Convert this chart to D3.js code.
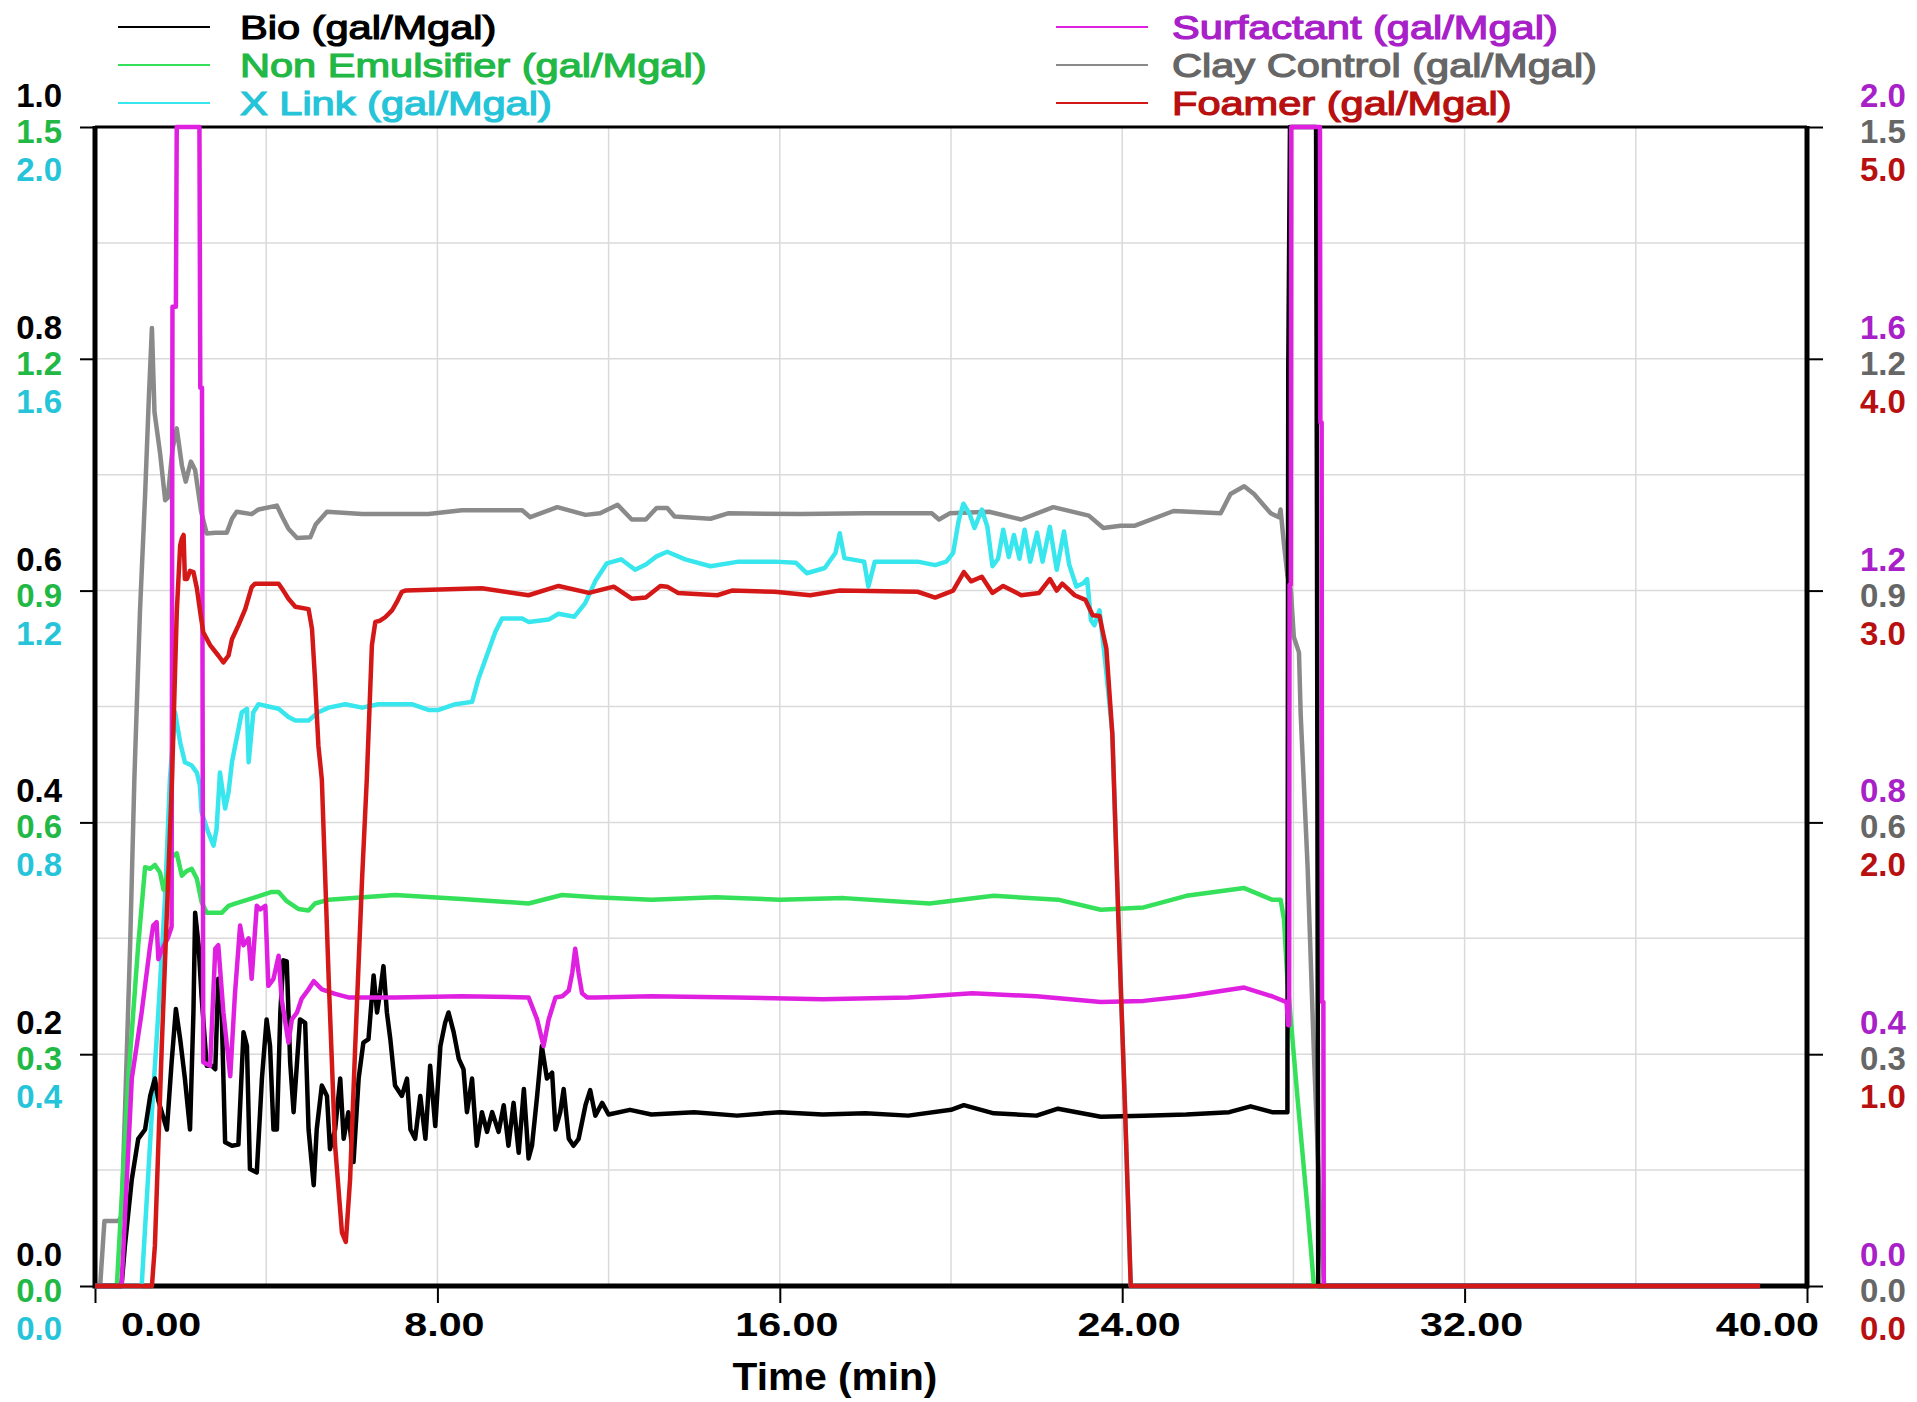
<!DOCTYPE html>
<html>
<head>
<meta charset="utf-8">
<script src="https://cdn.jsdelivr.net/npm/d3@7"></script>
<style>
  body { margin: 0; background: #fff; }
  svg { display: block; }
</style>
</head>
<body>
<svg id="chart"></svg>
<script>

// -----------------------------
// DATA  [minute, value]
// -----------------------------
const xTicks = [0, 8, 16, 24, 32, 40];

const bioData = [
  [0,0],[0.62,0],[0.70,0.035],[0.86,0.092],[1.01,0.127],[1.17,0.135],[1.29,0.164],[1.40,0.179],[1.48,0.16],[1.56,0.15],
  [1.68,0.135],[1.79,0.193],[1.89,0.239],[1.99,0.213],[2.10,0.179],[2.22,0.135],[2.30,0.236],[2.34,0.322],[2.42,0.294],[2.49,0.25],
  [2.61,0.19],[2.73,0.19],[2.81,0.187],[2.88,0.265],[2.96,0.236],[3.04,0.124],[3.20,0.121],[3.35,0.122],[3.47,0.219],[3.55,0.207],
  [3.62,0.101],[3.78,0.098],[3.90,0.179],[4.01,0.23],[4.09,0.207],[4.17,0.135],[4.25,0.135],[4.33,0.236],[4.40,0.281],[4.48,0.28],
  [4.56,0.193],[4.64,0.15],[4.72,0.193],[4.79,0.23],[4.91,0.227],[4.99,0.135],[5.11,0.087],[5.18,0.135],[5.30,0.173],[5.42,0.164],
  [5.49,0.118],[5.61,0.135],[5.73,0.179],[5.81,0.127],[5.92,0.15],[6.04,0.107],[6.16,0.179],[6.27,0.21],[6.39,0.213],[6.51,0.268],
  [6.59,0.236],[6.66,0.253],[6.74,0.276],[6.82,0.236],[6.90,0.213],[7.01,0.173],[7.17,0.164],[7.29,0.179],[7.37,0.135],[7.48,0.127],
  [7.60,0.164],[7.72,0.127],[7.83,0.19],[7.95,0.138],[8.07,0.207],[8.18,0.227],[8.26,0.236],[8.38,0.219],[8.50,0.196],[8.61,0.187],
  [8.69,0.15],[8.81,0.179],[8.92,0.121],[9.04,0.15],[9.16,0.133],[9.28,0.15],[9.43,0.133],[9.55,0.156],[9.66,0.121],[9.78,0.158],
  [9.90,0.115],[10.02,0.17],[10.13,0.11],[10.21,0.121],[10.33,0.164],[10.44,0.207],[10.56,0.179],[10.68,0.184],[10.76,0.135],[10.87,0.15],
  [10.95,0.17],[11.07,0.127],[11.18,0.121],[11.30,0.127],[11.46,0.156],[11.57,0.169],[11.69,0.147],[11.85,0.158],[12.0,0.148],[12.5,0.152],
  [13.0,0.148],[14.0,0.15],[15.0,0.147],[16.0,0.15],[17.0,0.148],[18.0,0.149],[19.0,0.147],[20.0,0.152],[20.3,0.156],[21.0,0.149],
  [22.0,0.147],[22.5,0.153],[23.5,0.146],[24.5,0.147],[25.5,0.148],[26.5,0.15],[27.0,0.155],[27.5,0.15],[27.86,0.15],[27.88,0.79],
  [27.92,1.0],[28.53,1.0],[28.55,0.67],[28.58,0],[38.9,0]
];

const nonEmulData = [
  [0,0],[0.51,0],[0.78,0.269],[1.01,0.441],[1.17,0.542],[1.29,0.54],[1.40,0.545],[1.52,0.535],[1.60,0.513],[1.68,0.53],
  [1.79,0.555],[1.91,0.56],[2.03,0.531],[2.14,0.537],[2.26,0.54],[2.38,0.527],[2.49,0.497],[2.61,0.483],[2.96,0.483],[3.12,0.492],
  [3.27,0.495],[3.74,0.503],[4.13,0.51],[4.29,0.51],[4.48,0.498],[4.75,0.488],[4.99,0.486],[5.14,0.495],[5.46,0.50],[7.01,0.506],
  [8.57,0.501],[10.13,0.495],[10.91,0.506],[11.69,0.503],[13.0,0.5],[14.5,0.503],[16.0,0.5],[17.5,0.502],[19.5,0.495],[21.0,0.505],
  [22.5,0.5],[23.5,0.487],[24.5,0.49],[25.5,0.505],[26.85,0.515],[27.5,0.5],[27.7,0.5],[27.78,0.475],[27.86,0.396],[28.09,0.247],
  [28.33,0.1],[28.48,0],[38.9,0]
];

const xLinkData = [
  [0,0],[1.09,0],[1.33,0.30],[1.48,0.472],[1.64,0.674],[1.75,0.874],[1.80,0.922],[1.87,0.99],[1.99,0.938],[2.10,0.904],
  [2.26,0.898],[2.38,0.886],[2.45,0.864],[2.49,0.818],[2.65,0.782],[2.77,0.76],[2.84,0.788],[2.92,0.886],[3.04,0.824],[3.12,0.852],
  [3.20,0.904],[3.43,0.99],[3.55,0.996],[3.59,0.904],[3.70,0.99],[3.82,1.004],[4.05,1.0],[4.29,0.996],[4.52,0.982],[4.68,0.976],
  [4.99,0.976],[5.22,0.99],[5.46,0.998],[5.85,1.004],[6.24,0.998],[6.62,1.004],[7.40,1.004],[7.79,0.994],[8.03,0.994],[8.42,1.004],
  [8.81,1.008],[8.96,1.048],[9.35,1.128],[9.51,1.152],[9.98,1.152],[10.13,1.146],[10.60,1.15],[10.83,1.16],[11.20,1.155],[11.45,1.178],
  [11.70,1.218],[11.96,1.247],[12.29,1.254],[12.62,1.236],[12.87,1.245],[13.12,1.259],[13.37,1.267],[13.79,1.254],[14.38,1.242],[15.04,1.25],
  [15.88,1.25],[16.38,1.248],[16.63,1.23],[17.05,1.239],[17.30,1.265],[17.40,1.299],[17.51,1.256],[17.97,1.25],[18.07,1.207],[18.22,1.25],
  [19.22,1.25],[19.63,1.244],[19.89,1.25],[20.05,1.265],[20.18,1.321],[20.29,1.35],[20.43,1.333],[20.55,1.308],[20.72,1.34],[20.85,1.31],
  [20.97,1.242],[21.10,1.255],[21.22,1.305],[21.35,1.258],[21.47,1.296],[21.60,1.255],[21.72,1.305],[21.85,1.25],[22.01,1.3],[22.14,1.25],
  [22.31,1.31],[22.47,1.236],[22.64,1.302],[22.76,1.245],[22.93,1.207],[23.10,1.213],[23.18,1.22],[23.27,1.149],[23.35,1.14],[23.47,1.166],
  [23.6,1.08],[23.77,0.954],[23.91,0.638],[24.06,0.32],[24.2,0],[38.9,0]
];

const surfData = [
  [0,0],[0.62,0],[0.86,0.358],[1.09,0.472],[1.29,0.588],[1.36,0.622],[1.44,0.628],[1.48,0.564],[1.56,0.58],[1.70,0.6],
  [1.79,0.62],[1.81,1.69],[1.89,1.69],[1.91,2.0],[2.44,2.0],[2.46,1.55],[2.50,1.55],[2.53,0.386],[2.69,0.38],[2.81,0.582],
  [2.88,0.588],[3.00,0.472],[3.16,0.362],[3.27,0.504],[3.39,0.622],[3.47,0.588],[3.59,0.6],[3.66,0.53],[3.78,0.656],[3.86,0.65],
  [3.98,0.656],[4.05,0.518],[4.17,0.53],[4.29,0.57],[4.36,0.496],[4.52,0.42],[4.60,0.46],[4.72,0.472],[4.83,0.496],[4.99,0.512],
  [5.11,0.526],[5.30,0.512],[5.61,0.504],[5.92,0.498],[7.01,0.498],[8.57,0.5],[10.13,0.498],[10.33,0.46],[10.48,0.414],[10.60,0.46],
  [10.76,0.498],[10.92,0.5],[11.07,0.51],[11.15,0.54],[11.22,0.582],[11.30,0.54],[11.38,0.505],[11.50,0.498],[11.69,0.498],[13.0,0.5],
  [15.0,0.498],[17.0,0.495],[19.0,0.498],[20.5,0.505],[22.0,0.5],[23.5,0.49],[24.5,0.492],[25.5,0.5],[26.85,0.515],[27.5,0.5],
  [27.84,0.49],[27.88,0.45],[27.9,0.45],[27.91,1.21],[27.94,1.21],[27.95,2.0],[28.62,2.0],[28.63,1.49],[28.66,1.49],[28.67,0.49],
  [28.70,0.49],[28.71,0],[38.9,0]
];

const clayData = [
  [0,0],[0.12,0],[0.22,0.084],[0.55,0.084],[0.62,0.09],[0.70,0.225],[0.82,0.44],[0.92,0.657],[1.05,0.872],[1.17,1.023],
  [1.26,1.152],[1.33,1.24],[1.39,1.131],[1.52,1.078],[1.64,1.017],[1.70,1.02],[1.81,1.083],[1.91,1.11],[2.03,1.062],[2.12,1.041],
  [2.24,1.067],[2.34,1.056],[2.48,1.002],[2.61,0.974],[2.81,0.975],[3.08,0.975],[3.20,0.993],[3.31,1.002],[3.66,0.999],[3.82,1.005],
  [4.25,1.01],[4.38,0.995],[4.52,0.98],[4.72,0.968],[5.03,0.969],[5.16,0.986],[5.42,1.002],[6.24,0.999],[7.79,0.999],[8.57,1.004],
  [9.98,1.004],[10.17,0.995],[10.80,1.008],[11.46,0.998],[11.8,1.0],[12.21,1.011],[12.54,0.992],[12.87,0.992],[13.12,1.007],[13.37,1.007],
  [13.54,0.996],[14.38,0.993],[14.79,1.0],[16.5,0.999],[18.0,1.0],[19.55,1.0],[19.72,0.992],[19.97,1.0],[20.89,1.002],[21.64,0.992],
  [22.39,1.008],[23.22,0.997],[23.56,0.981],[23.96,0.984],[24.3,0.984],[25.2,1.003],[26.3,1.0],[26.53,1.025],[26.85,1.035],[27.08,1.025],
  [27.47,1.0],[27.66,0.995],[27.70,1.005],[27.78,0.96],[27.86,0.92],[27.94,0.9],[28.01,0.84],[28.13,0.82],[28.17,0.74],[28.33,0.545],
  [28.48,0.30],[28.64,0.07],[28.72,0],[38.9,0]
];

const foamerData = [
  [0,0],[1.33,0],[1.40,0.175],[1.56,1.035],[1.71,1.755],[1.80,2.19],[1.91,2.905],[1.99,3.195],[2.03,3.225],[2.07,3.24],
  [2.10,3.05],[2.15,3.05],[2.22,3.085],[2.30,3.08],[2.38,3.01],[2.46,2.905],[2.53,2.82],[2.69,2.765],[2.88,2.72],[3.00,2.69],
  [3.12,2.72],[3.20,2.79],[3.35,2.85],[3.51,2.92],[3.66,3.015],[3.74,3.03],[4.29,3.03],[4.40,3.0],[4.52,2.965],[4.68,2.93],
  [4.99,2.92],[5.07,2.835],[5.14,2.62],[5.22,2.33],[5.30,2.185],[5.46,1.325],[5.61,0.605],[5.77,0.23],[5.86,0.19],[5.96,0.46],
  [6.08,1.035],[6.24,1.755],[6.35,2.185],[6.47,2.765],[6.55,2.865],[6.66,2.87],[6.78,2.885],[6.94,2.915],[7.05,2.95],[7.17,2.995],
  [7.25,3.0],[9.04,3.01],[10.13,2.98],[10.83,3.02],[11.54,2.99],[12.12,3.017],[12.54,2.965],[12.87,2.97],[13.21,3.02],[13.37,3.017],
  [13.62,2.99],[14.54,2.98],[14.88,3.0],[15.88,2.995],[16.71,2.98],[17.38,3.0],[19.22,2.995],[19.63,2.97],[20.05,3.0],[20.30,3.08],
  [20.47,3.04],[20.72,3.06],[20.97,2.99],[21.22,3.02],[21.64,2.98],[22.06,2.99],[22.31,3.05],[22.47,3.0],[22.60,3.03],[22.89,2.98],
  [23.14,2.96],[23.31,2.894],[23.47,2.89],[23.56,2.81],[23.63,2.75],[23.77,2.38],[23.91,1.59],[24.06,0.80],[24.2,0],[38.9,0]
];

// series: name, data, axis max, line colour, text colour
const seriesNames = ["Bio (gal/Mgal)", "Non Emulsifier (gal/Mgal)", "X Link (gal/Mgal)",
                     "Surfactant (gal/Mgal)", "Clay Control (gal/Mgal)", "Foamer (gal/Mgal)"];
const seriesData  = [bioData, nonEmulData, xLinkData, surfData, clayData, foamerData];
const axisMax     = [1.0, 1.5, 2.0, 2.0, 1.5, 5.0];
const lineColors  = ["#000000", "#35e05a", "#38e6ee", "#e020e0", "#8a8a8a", "#d41818"];
const textColors  = ["#000000", "#22b845", "#26c4d8", "#a820c8", "#666666", "#b81010"];

// -----------------------------
// SETUP
// -----------------------------
const width = 1917, height = 1402;
const margin = { top: 127, right: 110, bottom: 116, left: 95 };
const FONT = "'Liberation Sans', Arial, sans-serif";

const svg = d3.select("#chart")
              .attr("width", width)
              .attr("height", height);

const x = d3.scaleLinear()
            .domain([0, 40])
            .range([margin.left, width - margin.right]);

const yScales = axisMax.map(m => d3.scaleLinear()
                                   .domain([0, m])
                                   .range([height - margin.bottom, margin.top]));

const plotLeft = margin.left, plotRight = width - margin.right;
const plotTop = margin.top, plotBottom = height - margin.bottom;

// text is drawn a bit wider than the font, like the original
function stretchText(px, py, str, anchor, size, weight, color, sx, strokeW) {
  svg.append("text")
     .attr("transform", `translate(${px},${py}) scale(${sx},1)`)
     .attr("text-anchor", anchor)
     .style("font-family", FONT)
     .style("font-size", size + "px")
     .style("font-weight", weight)
     .attr("fill", color)
     .attr("stroke", strokeW ? color : "none")
     .attr("stroke-width", strokeW || 0)
     .text(str);
}

// -----------------------------
// GRID
// -----------------------------
svg.append("g")
   .selectAll("line")
   .data(d3.range(4, 40, 4))
   .enter()
   .append("line")
   .attr("x1", d => x(d)).attr("x2", d => x(d))
   .attr("y1", plotTop).attr("y2", plotBottom)
   .attr("stroke", "#dadada")
   .attr("stroke-width", 1.5);

svg.append("g")
   .selectAll("line")
   .data(d3.range(1, 10).map(i => i / 10))
   .enter()
   .append("line")
   .attr("x1", plotLeft).attr("x2", plotRight)
   .attr("y1", d => yScales[0](d)).attr("y2", d => yScales[0](d))
   .attr("stroke", "#dadada")
   .attr("stroke-width", 1.5);

// -----------------------------
// AXES (tick marks only, labels drawn below)
// -----------------------------
const majorTicks = d3.range(0, 1.01, 0.2);

const leftAxis = svg.append("g")
   .attr("transform", `translate(${plotLeft},0)`)
   .call(d3.axisLeft(yScales[0]).tickValues(majorTicks).tickSize(15).tickFormat(""));
const rightAxis = svg.append("g")
   .attr("transform", `translate(${plotRight},0)`)
   .call(d3.axisRight(yScales[0]).tickValues(majorTicks).tickSize(16).tickFormat(""));
const bottomAxis = svg.append("g")
   .attr("transform", `translate(0,${plotBottom})`)
   .call(d3.axisBottom(x).tickValues(xTicks).tickSize(17).tickFormat(""));

[leftAxis, rightAxis, bottomAxis].forEach(g => {
  g.select(".domain").remove();
  g.selectAll(".tick line").attr("stroke", "#000").attr("stroke-width", 2);
});

// frame
svg.append("line").attr("x1", plotLeft).attr("x2", plotRight).attr("y1", plotTop).attr("y2", plotTop)
   .attr("stroke", "#000").attr("stroke-width", 3);
svg.append("line").attr("x1", plotLeft).attr("x2", plotLeft).attr("y1", plotTop - 1).attr("y2", plotBottom + 2.5)
   .attr("stroke", "#000").attr("stroke-width", 5);
svg.append("line").attr("x1", plotRight).attr("x2", plotRight).attr("y1", plotTop - 1).attr("y2", plotBottom + 2.5)
   .attr("stroke", "#000").attr("stroke-width", 5);
svg.append("line").attr("x1", plotLeft).attr("x2", plotRight).attr("y1", plotBottom).attr("y2", plotBottom)
   .attr("stroke", "#000").attr("stroke-width", 5);

// -----------------------------
// AXIS LABELS
// -----------------------------
const stackOffsets = [-20, 16, 54];
const fmt1 = d3.format(".1f");

[0, 1, 2].forEach((s, k) => {
  const m = axisMax[s];
  d3.range(0, 6).forEach(i => {
    const v = m * i / 5;
    stretchText(62, yScales[s](v) + stackOffsets[k], fmt1(v), "end", 33, "bold", textColors[s], 1.0);
  });
});

[3, 4, 5].forEach((s, k) => {
  const m = axisMax[s];
  d3.range(0, 6).forEach(i => {
    const v = m * i / 5;
    stretchText(1860, yScales[s](v) + stackOffsets[k], fmt1(v), "start", 33, "bold", textColors[s], 1.0);
  });
});

const fmt2 = d3.format(".2f");
xTicks.forEach((d, i) => {
  if (i === 0) {
    stretchText(x(d) + 26, 1336, fmt2(d), "start", 33, "bold", "#000", 1.25);
  } else if (i === xTicks.length - 1) {
    stretchText(x(d) + 12, 1336, fmt2(d), "end", 33, "bold", "#000", 1.25);
  } else {
    stretchText(x(d) + 7, 1336, fmt2(d), "middle", 33, "bold", "#000", 1.25);
  }
});

stretchText(835, 1390, "Time (min)", "middle", 38, "bold", "#000", 1.07);

// -----------------------------
// LINES
// -----------------------------
const drawOrder = [4, 2, 1, 0, 3, 5];

drawOrder.forEach(s => {
  const line = d3.line()
                 .x(d => x(d[0]))
                 .y(d => yScales[s](d[1]));
  svg.append("path")
     .datum(seriesData[s])
     .attr("d", line)
     .attr("fill", "none")
     .attr("stroke", lineColors[s])
     .attr("stroke-width", 4.5)
     .attr("stroke-linejoin", "round");
});

// -----------------------------
// LEGEND
// -----------------------------
const legendRows = [39, 77, 115];

seriesNames.forEach((name, i) => {
  const col = i < 3 ? 0 : 1;
  const row = i % 3;
  const lx = col === 0 ? 118 : 1056;
  const tx = col === 0 ? 240 : 1172;
  const ly = legendRows[row];

  svg.append("line")
     .attr("x1", lx).attr("x2", lx + 92)
     .attr("y1", ly - 12).attr("y2", ly - 12)
     .attr("stroke", lineColors[i])
     .attr("stroke-width", 2);

  stretchText(tx, ly, name, "start", 33, "normal", textColors[i], 1.26, 1.2);
});

</script>
</body>
</html>
